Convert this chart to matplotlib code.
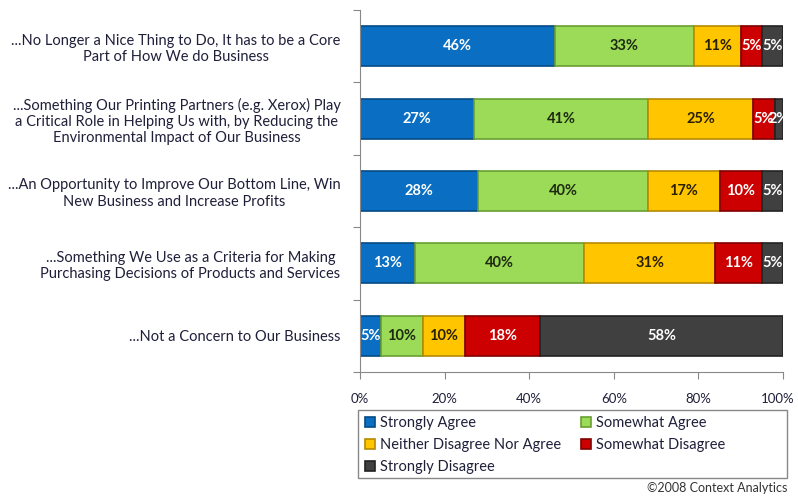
import numpy as np
import matplotlib.pyplot as plt
from matplotlib.patches import Rectangle
from matplotlib.transforms import ScaledTranslation

# Datos (porcentajes por categoría)
categorias = [
    "...No Longer a Nice Thing to Do, It has to be a Core\nPart of How We do Business",
    "...Something Our Printing Partners (e.g. Xerox) Play\na Critical Role in Helping Us with, by Reducing the\nEnvironmental Impact of Our Business",
    "...An Opportunity to Improve Our Bottom Line, Win\nNew Business and Increase Profits",
    "...Something We Use as a Criteria for Making\nPurchasing Decisions of Products and Services",
    "...Not a Concern to Our Business",
]
series = ["Strongly Agree", "Somewhat Agree", "Neither Disagree Nor Agree",
          "Somewhat Disagree", "Strongly Disagree"]
strongly_agree = [46, 27, 28, 13, 5]
somewhat_agree = [33, 41, 40, 40, 10]
neither = [11, 25, 17, 31, 10]
somewhat_disagree = [5, 5, 10, 11, 18]
strongly_disagree = [5, 2, 5, 5, 58]

colores = ["#0A6FC2", "#9BDB57", "#FFC600", "#CC0000", "#404040"]
bordes = ["#054A85", "#6A9E35", "#B88A00", "#800000", "#222222"]
color_texto = ["white", "#1E2A10", "#2A2000", "white", "white"]

plt.rcParams['font.family'] = ['Lato', 'DejaVu Sans']
texto = "#1F1F3A"

valores = np.array([strongly_agree, somewhat_agree, neither,
                    somewhat_disagree, strongly_disagree], dtype=float)
# Excel 100% apilado: normalizar cada fila
porcentajes = valores / valores.sum(axis=0) * 100

fig = plt.figure(figsize=(7.98, 4.96), dpi=100)
ax = fig.add_axes([360 / 798, 1 - 372 / 496, 423 / 798, 362 / 496])

y = np.arange(len(categorias))
izquierda = np.zeros(len(categorias))
handles = []
for i, nombre in enumerate(series):
    barras = ax.barh(y, porcentajes[i], left=izquierda, height=0.55,
                     color=colores[i], edgecolor=bordes[i], linewidth=1.2,
                     label=nombre)
    handles.append(barras)
    for j, b in enumerate(barras):
        cx = izquierda[j] + porcentajes[i][j] / 2
        ax.text(cx, y[j], f"{int(valores[i][j])}%", ha='center', va='center',
                fontsize=10.5, fontweight='bold', color=color_texto[i])
    izquierda += porcentajes[i]

ax.set_xlim(0, 100)
ax.set_ylim(len(categorias) - 0.5, -0.5)
ax.set_xticks(np.arange(0, 101, 20))
ax.set_xticklabels([f"{t}%" for t in range(0, 101, 20)], fontsize=9.5,
                   color=texto)
ax.tick_params(axis='x', direction='out', length=5, color='#888888', pad=10)
# mover un poco el "100%" para que no quede cortado en el borde
ultimo = ax.get_xticklabels()[-1]
ultimo.set_transform(ultimo.get_transform()
                     + ScaledTranslation(-4 / 72, 0, fig.dpi_scale_trans))

# ticks mayores entre categorías, etiquetas como ticks menores
ax.set_yticks(np.arange(-0.5, len(categorias), 1.0))
ax.set_yticklabels([])
ax.tick_params(axis='y', which='major', direction='out', length=5,
               color='#888888')
ax.set_yticks(y, minor=True)
ax.set_yticklabels(categorias, minor=True, fontsize=10.5, color=texto,
                   multialignment='center')
ax.tick_params(axis='y', which='minor', length=0, pad=14)

for lado in ['top', 'right']:
    ax.spines[lado].set_visible(False)
for lado in ['left', 'bottom']:
    ax.spines[lado].set_color('#888888')

# caja de la leyenda (más ancha que su contenido, como en Excel)
fig.patches.append(Rectangle((358 / 798, 1 - 478 / 496), 429 / 798, 68 / 496,
                             transform=fig.transFigure, fill=False,
                             edgecolor='#888888', linewidth=1.0))
orden = [0, 2, 4, 1, 3]
leg = fig.legend([handles[k] for k in orden], [series[k] for k in orden],
                 ncol=2, loc='upper left',
                 bbox_to_anchor=(362 / 798, 1 - 413 / 496), fontsize=10.5,
                 frameon=False, borderaxespad=0,
                 handlelength=0.7, handleheight=0.7, handletextpad=0.3,
                 labelspacing=0.55, columnspacing=1.4, borderpad=0.2)
for t in leg.get_texts():
    t.set_color(texto)

fig.text(787 / 798, 1 - 488 / 496, "©2008 Context Analytics", ha='right',
         va='center', fontsize=9, color='#333333')

fig.savefig("out.png", dpi=100)
